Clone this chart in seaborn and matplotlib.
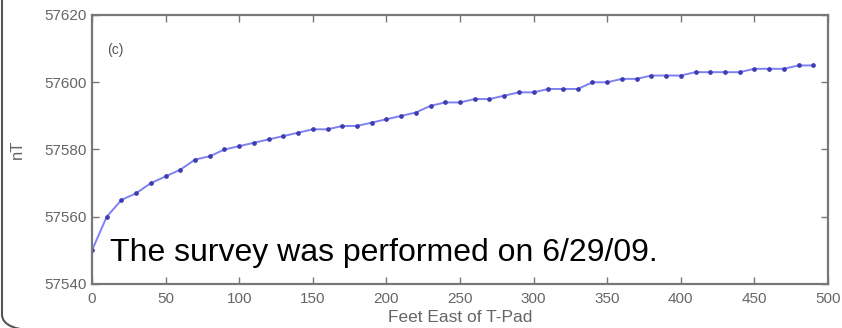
import matplotlib
matplotlib.use("Agg")
import matplotlib.pyplot as plt
from matplotlib.patches import FancyBboxPatch
import seaborn as sns
import pandas as pd

feet = [0, 10, 20, 30, 40, 50, 60, 70, 80, 90,
        100, 110, 120, 130, 140, 150, 160, 170, 180, 190,
        200, 210, 220, 230, 240, 250, 260, 270, 280, 290,
        300, 310, 320, 330, 340, 350, 360, 370, 380, 390,
        400, 410, 420, 430, 440, 450, 460, 470, 480, 490]
nT = [57550, 57560, 57565, 57567, 57570, 57572, 57574, 57577, 57578, 57580,
      57581, 57582, 57583, 57584, 57585, 57586, 57586, 57587, 57587, 57588,
      57589, 57590, 57591, 57593, 57594, 57594, 57595, 57595, 57596, 57597,
      57597, 57598, 57598, 57598, 57600, 57600, 57601, 57601, 57602, 57602,
      57602, 57603, 57603, 57603, 57603, 57604, 57604, 57604, 57605, 57605]
x_ticks = [0, 50, 100, 150, 200, 250, 300, 350, 400, 450, 500]
y_ticks = [57540, 57560, 57580, 57600, 57620]
panel_label = "(c)"
note = "The survey was performed on 6/29/09."
x_label = "Feet East of T-Pad"
y_label = "nT"

df = pd.DataFrame({"feet": feet, "nT": nT})

sns.set_style("white")
plt.rcParams["font.family"] = ["Liberation Sans", "DejaVu Sans"]

W, H = 842, 328
fig = plt.figure(figsize=(W / 100, H / 100), dpi=100)
ax = fig.add_axes([92 / W, 1 - 284 / H, (828 - 92) / W, (284 - 15) / H])

sns.lineplot(data=df, x="feet", y="nT", ax=ax, color="#8080f2", linewidth=1.4,
             marker="o", markersize=2.6, markerfacecolor="#3c3cb0",
             markeredgecolor="#3c3cb0", estimator=None)

ax.set_xlim(0, 500)
ax.set_ylim(57540, 57620)
ax.set_xticks(x_ticks)
ax.set_yticks(y_ticks)
ax.tick_params(direction="in", length=5, width=1, color="#777777",
               labelcolor="#666666", labelsize=11, top=True, right=True,
               bottom=True, left=True, pad=4)
ax.tick_params(axis="x", pad=6)
for s in ax.spines.values():
    s.set_visible(True)
    s.set_color("#777777")
    s.set_linewidth(1.6)

ax.set_xlabel(x_label, color="#666666", fontsize=12.5, labelpad=3)
ax.set_ylabel(y_label, color="#666666", fontsize=12, labelpad=14)

ax.text(0.02, 0.87, panel_label, transform=ax.transAxes, fontsize=10,
        color="#555555", ha="left", va="center")
ax.text(0.0245, 0.0855, note, transform=ax.transAxes, fontsize=23,
        color="black", ha="left", va="baseline")

frame = FancyBboxPatch((2 / W, -3 / H), 1.1, 1.1, boxstyle="round,pad=0,rounding_size=0.05",
                       transform=fig.transFigure, fill=False, edgecolor="#555555",
                       linewidth=1.5, clip_on=False)
fig.patches.append(frame)

fig.savefig("out.png", dpi=100)
